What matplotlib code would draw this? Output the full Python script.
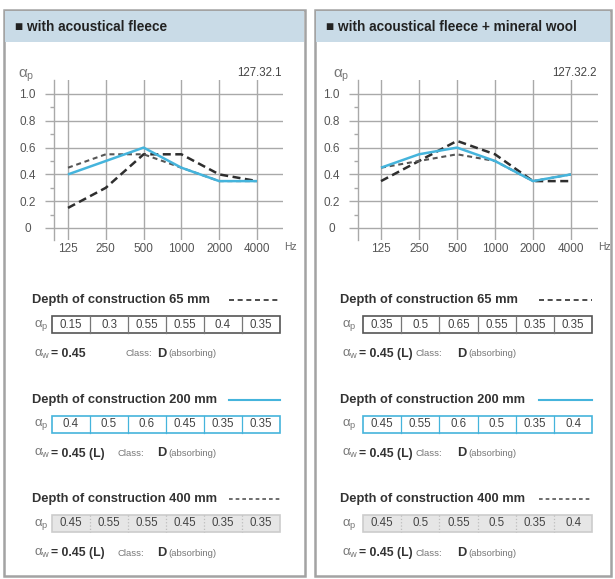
import matplotlib
matplotlib.use("Agg")
import matplotlib.pyplot as plt
from matplotlib.patches import Rectangle
from matplotlib.ticker import FixedLocator

plt.rcParams['font.family'] = ['Liberation Sans', 'DejaVu Sans']

# ---------------- data ----------------
freqs = ["125", "250", "500", "1000", "2000", "4000"]
depths = ["65 mm", "200 mm", "400 mm"]

panel_titles = ["with acoustical fleece", "with acoustical fleece + mineral wool"]
panel_codes = ["127.32.1", "127.32.2"]

left_65 = [0.15, 0.3, 0.55, 0.55, 0.4, 0.35]
left_200 = [0.4, 0.5, 0.6, 0.45, 0.35, 0.35]
left_400 = [0.45, 0.55, 0.55, 0.45, 0.35, 0.35]

right_65 = [0.35, 0.5, 0.65, 0.55, 0.35, 0.35]
right_200 = [0.45, 0.55, 0.6, 0.5, 0.35, 0.4]
right_400 = [0.45, 0.5, 0.55, 0.5, 0.35, 0.4]

left_aw = ["0.45", "0.45 (L)", "0.45 (L)"]
right_aw = ["0.45 (L)", "0.45 (L)", "0.45 (L)"]
class_letter = "D"
class_word = "(absorbing)"

yticks = [0, 0.2, 0.4, 0.6, 0.8, 1.0]
ytick_labels = ["0", "0.2", "0.4", "0.6", "0.8", "1.0"]

# ---------------- figure ----------------
W, H = 615, 579
fig = plt.figure(figsize=(W / 100, H / 100), dpi=100)
bg = fig.add_axes([0, 0, 1, 1])
bg.set_xlim(0, W)
bg.set_ylim(H, 0)
bg.axis('off')

CYAN = '#45b4dc'
GRID = '#a9a9a9'
TXT = '#444444'

panels = [
    dict(x0=4, x1=305, ax_l=54, ax_r=283, tick0=68, step=37.8,
         data=[left_65, left_200, left_400], aw=left_aw,
         title_x=32, tab_x=52, cell_w=38.0, leg=(229, 280),
         class_x=[125, 118, 118], d_x=157, hz_x=284, ap_x=18),
    dict(x0=315, x1=611, ax_l=358, ax_r=598, tick0=381, step=38.0,
         data=[right_65, right_200, right_400], aw=right_aw,
         title_x=340, tab_x=363, cell_w=38.2, leg=(539, 592),
         class_x=[416, 416, 416], d_x=457, hz_x=598, ap_x=333),
]

Y0PIX, Y1PIX = 228, 94  # pixel rows of 0 and 1.0
AX_TOP, AX_BOT = 80, 240
yscale = Y0PIX - Y1PIX
ylim = (-(AX_BOT - Y0PIX) / yscale, (Y0PIX - AX_TOP) / yscale)

styles = [
    dict(color='#2e2e2e', lw=1.8, dashes=(3.2, 1.8)),
    dict(color=CYAN, lw=1.8, dashes=None),
    dict(color='#555555', lw=1.5, dashes=(2.4, 1.8)),
]

for pi, p in enumerate(panels):
    # panel frame
    bg.add_patch(Rectangle((p['x0'], 10), p['x1'] - p['x0'], 566, facecolor='white',
                           edgecolor='#a3a3a3', lw=1.8, zorder=0))
    bg.add_patch(Rectangle((p['x0'] + 1, 11), p['x1'] - p['x0'] - 2, 31,
                           facecolor='#c9dbe7', edgecolor='none', zorder=1))
    bg.text(p['x0'] + 11, 27, "\u25a0 " + panel_titles[pi], fontsize=9.8, fontweight='bold',
            color='#222222', va='center', ha='left', zorder=2)

    # chart axes
    ax = fig.add_axes([p['ax_l'] / W, (H - AX_BOT) / H, (p['ax_r'] - p['ax_l']) / W,
                       (AX_BOT - AX_TOP) / H])
    ax.set_facecolor('none')
    xs = list(range(len(freqs)))
    ax.set_xlim(-(p['tick0'] - p['ax_l']) / p['step'], (p['ax_r'] - p['tick0']) / p['step'])
    ax.set_ylim(*ylim)
    for s in ['top', 'right', 'bottom']:
        ax.spines[s].set_visible(False)
    ax.spines['left'].set_color(GRID)
    ax.spines['left'].set_linewidth(1.0)
    ax.set_xticks(xs)
    ax.set_xticklabels(freqs)
    ax.set_yticks(yticks)
    ax.set_yticklabels(ytick_labels, ha='center')
    ax.yaxis.set_minor_locator(FixedLocator([0.1, 0.3, 0.5, 0.7, 0.9]))
    ax.tick_params(axis='x', length=0, pad=2.0, labelsize=8.5, labelcolor='#555555')
    ax.tick_params(axis='y', which='major', length=6.5, width=1.0, color=GRID,
                   pad=12.5, labelsize=8.5, labelcolor='#555555')
    ax.tick_params(axis='y', which='minor', length=3.0, width=1.0, color=GRID,
                   direction='out')
    ax.grid(True, which='major', color=GRID, lw=1.0)
    ax.set_axisbelow(True)
    for di, vals in enumerate(p['data']):
        st = styles[di]
        ln, = ax.plot(xs, vals, color=st['color'], lw=st['lw'], zorder=3 + (di == 1),
                      solid_capstyle='butt')
        if st['dashes']:
            ln.set_dashes(st['dashes'])

    # labels around chart
    bg.text(p['ap_x'], 76, r'$\mathregular{\alpha_p}$', fontsize=11, color='#777777',
            ha='left', va='center')
    bg.text(p['ax_r'] - 1, 73, panel_codes[pi], fontsize=8.3, color='#444444',
            ha='right', va='center')
    bg.text(p['hz_x'], 247, "Hz", fontsize=7.5, color='#666666', ha='left', va='center')

    # tables
    for bi in range(3):
        off = 99.5 * bi
        ty = 300 + off
        bg.text(p['title_x'], ty, "Depth of construction " + depths[bi], fontsize=9.3,
                fontweight='bold', color='#333333', ha='left', va='center')
        st = styles[bi]
        lx0, lx1 = p['leg']
        leg_ln, = bg.plot([lx0, lx1], [ty, ty], color=st['color'], lw=1.2 if st['dashes'] else 1.5)
        if st['dashes']:
            leg_ln.set_dashes((3.0, 2.2) if bi == 0 else (2.2, 1.8))

        top = 316 + off
        hgt = 17
        if bi == 0:
            fc, ec, dc = 'white', '#555555', '#777777'
        elif bi == 1:
            fc, ec, dc = 'white', CYAN, CYAN
        else:
            fc, ec, dc = '#e6e6e6', '#cccccc', '#bdbdbd'
        ncell = len(freqs)
        bg.add_patch(Rectangle((p['tab_x'], top), p['cell_w'] * ncell, hgt, facecolor=fc,
                               edgecolor=ec, lw=1.2, zorder=2))
        vals = p['data'][bi]
        for ci in range(ncell):
            cx = p['tab_x'] + p['cell_w'] * ci
            if ci > 0:
                bg.plot([cx, cx], [top, top + hgt], color=dc, lw=0.9, zorder=3,
                        ls='-' if bi < 2 else ':')
            bg.text(cx + p['cell_w'] / 2, top + hgt / 2, f"{vals[ci]:g}", fontsize=8.3,
                    color=TXT, ha='center', va='center', zorder=4)
        bg.text(p['title_x'] + 2, top + hgt / 2 + 1, r'$\mathregular{\alpha_p}$', fontsize=9.5,
                color='#777777', ha='left', va='center')

        awy = 354 + off
        bg.text(p['title_x'] + 2, awy, r'$\mathregular{\alpha_w}$', fontsize=9.5,
                color='#777777', ha='left', va='center')
        bg.text(p['title_x'] + 19, awy, "= " + p['aw'][bi], fontsize=8.8,
                fontweight='bold', color='#333333', ha='left', va='center')
        bg.text(p['class_x'][bi], awy, "Class:", fontsize=6.8, color='#777777',
                ha='left', va='center')
        bg.text(p['d_x'], awy, class_letter, fontsize=9.3, fontweight='bold',
                color='#333333', ha='left', va='center')
        bg.text(p['d_x'] + 11, awy, class_word, fontsize=6.8, color='#777777',
                ha='left', va='center')

fig.savefig("out.png", dpi=100)
